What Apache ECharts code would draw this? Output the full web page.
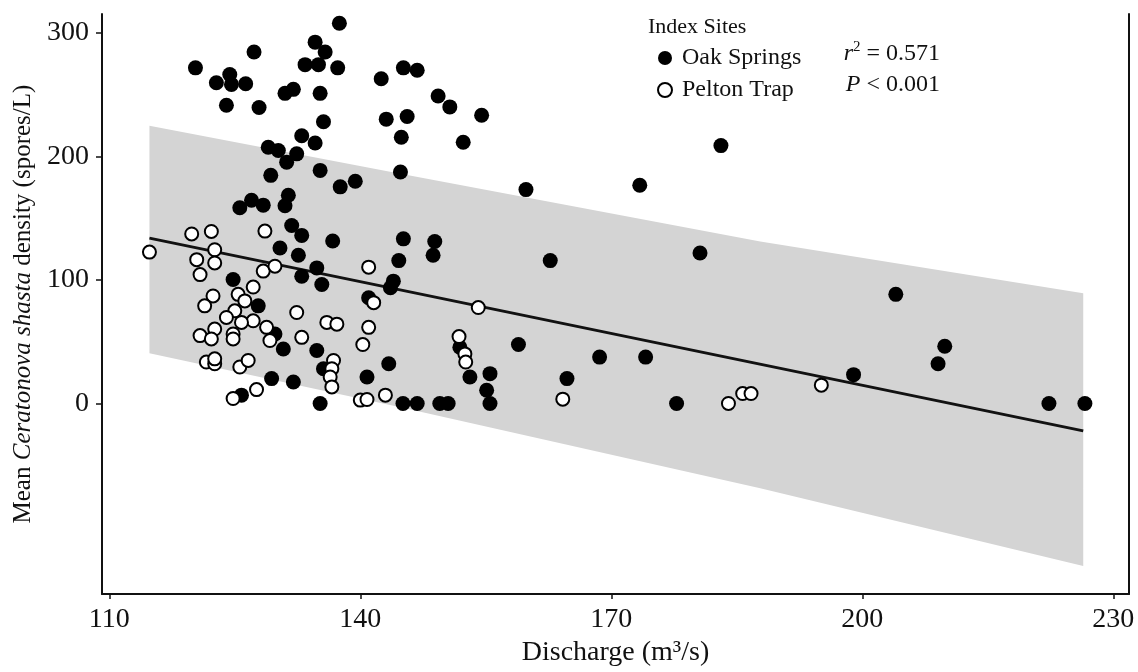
<!DOCTYPE html>
<html><head><meta charset="utf-8">
<script src="https://cdn.jsdelivr.net/npm/echarts@6/dist/echarts.min.js"></script>
<style>html,body{margin:0;padding:0;background:#fff}#c{width:1138px;height:672px}</style>
</head><body><div id="c"></div>
<script>
// Oak Springs: [discharge (m³/s), density (spores/L)]
const oakSprings = [
  [137.5,307.7],[120.3,271.6],[127.3,284.4],[134.6,292.4],[135.8,284.4],[133.4,274.2],[135.0,274.2],[137.3,271.6],
  [122.8,259.5],[124.4,266.2],[124.6,258.2],[126.3,258.7],[124.0,241.3],[127.9,239.5],[131.0,251.0],[132.0,254.2],
  [135.2,251.0],[135.6,228.0],[142.5,262.8],[143.1,230.1],[133.0,216.7],[134.6,210.8],[129.0,207.4],[130.2,204.7],
  [131.2,195.3],[132.4,202.0],[135.2,188.6],[129.3,184.6],[137.6,175.3],[139.4,179.8],[125.6,158.4],[127.0,164.5],
  [128.4,160.5],[131.4,168.5],[131.0,160.0],[131.8,144.0],[133.0,136.0],[136.7,131.5],[130.4,125.8],[132.6,119.9],
  [134.8,109.7],[133.0,103.0],[135.4,96.3],[124.8,100.3],[127.8,79.0],[129.8,56.2],[130.8,44.1],[134.8,42.9],
  [135.6,28.1],[129.4,20.1],[132.0,17.4],[125.8,6.7],[135.2,0],[141.0,85.6],[143.4,32.1],[140.8,21.4],
  [145.15,133.2],[144.6,115.6],[148.9,131.1],[148.7,119.9],[162.7,115.6],[180.6,121.8],[143.95,99.0],[143.6,93.7],
  [158.9,47.7],[151.9,45.5],[153.1,21.4],[155.5,24.1],[155.1,10.7],[155.5,0],[164.7,20.1],[168.6,37.5],
  [174.1,37.5],[177.8,0],[145.1,0],[146.8,0],[149.5,0],[150.5,0],[145.15,271.6],[146.8,269.7],
  [149.3,248.8],[150.7,240.0],[154.5,233.3],[145.6,232.3],[144.9,215.4],[152.3,211.4],[144.8,187.3],[159.8,173.1],
  [173.4,176.6],[183.1,208.7],[204.0,88.3],[209.85,46.3],[209.05,32.1],[198.95,23.3],[222.3,0],[226.6,0]
];
// Pelton Trap
const peltonTrap = [
  [114.8,122.5],[119.85,137.2],[122.2,139.2],[128.6,139.5],[122.6,124.4],[122.6,113.7],[120.45,116.4],[120.85,104.3],
  [128.4,107.1],[129.8,111.1],[127.2,94.2],[125.4,88.3],[122.4,87.0],[121.4,79.0],[126.2,83.0],[125.0,75.0],
  [124.0,69.6],[127.2,66.9],[125.8,65.6],[128.8,61.6],[132.4,73.6],[136.0,65.6],[137.2,64.2],[120.85,54.9],
  [122.6,60.2],[122.2,52.2],[124.8,56.2],[124.8,52.2],[129.2,50.9],[133.0,53.5],[121.6,33.5],[122.6,32.1],
  [122.6,36.1],[125.6,29.5],[126.6,34.8],[136.8,34.8],[136.6,28.1],[136.4,21.4],[136.6,13.4],[127.6,11.2],
  [124.8,4.0],[141.0,110.3],[141.0,61.6],[140.3,47.7],[141.6,81.6],[143.0,6.7],[140.0,2.7],[140.8,3.2],
  [154.1,77.6],[151.8,54.1],[152.5,40.1],[152.6,33.5],[164.2,3.5],[184.0,0],[185.7,8.0],[186.7,8.0],[195.1,14.8]
];
// regression fit and prediction band
const fitX = [114.8, 226.4];
const fitY = [133.8, -22.2];
const bandX = [114.8, 144.8, 187.8, 226.4];
const bandUpper = [224.7, 185.9, 131.1, 89.1];
const bandLower = [40.7, -3.0, -68.7, -131.6];
const xTicks = [110, 140, 170, 200, 230];
const yTicks = [0, 100, 200, 300];

const FONT = '"Liberation Serif", "Times New Roman", serif';
const chart = echarts.init(document.getElementById('c'));
chart.setOption({
  backgroundColor: '#fff',
  animation: false,
  title: {
    text: 'Index Sites', left: 643, top: 11,
    textStyle: { fontFamily: FONT, fontSize: 22, fontWeight: 'normal', color: '#111' }
  },
  legend: {
    orient: 'vertical', left: 652, top: 41, itemWidth: 14, itemHeight: 14, itemGap: 8,
    selectedMode: false, icon: 'circle',
    data: ['Oak Springs', 'Pelton Trap'],
    textStyle: { fontFamily: FONT, fontSize: 24, color: '#111', lineHeight: 24, padding: [0, 0, 0, 5] }
  },
  graphic: [
    { type: 'text', x: 940, y: 53, style: {
        text: '{i|r}{s|2}{n| = 0.571}', align: 'right', verticalAlign: 'middle',
        rich: {
          i: { fontFamily: FONT, fontSize: 24, fontStyle: 'italic', fill: '#111', lineHeight: 26, verticalAlign: 'bottom' },
          s: { fontFamily: FONT, fontSize: 15, fill: '#111', lineHeight: 26, verticalAlign: 'top' },
          n: { fontFamily: FONT, fontSize: 24, fill: '#111', lineHeight: 26, verticalAlign: 'bottom' }
        } } },
    { type: 'text', x: 940, y: 85, style: {
        text: '{i|P}{n| < 0.001}', align: 'right', verticalAlign: 'middle',
        rich: {
          i: { fontFamily: FONT, fontSize: 24, fontStyle: 'italic', fill: '#111' },
          n: { fontFamily: FONT, fontSize: 24, fill: '#111' }
        } } }
  ],
  grid: { left: 102, right: 9, top: 14, bottom: 73, containLabel: false },
  xAxis: {
    type: 'value', min: 109.13, max: 231.87,
    axisLine: { show: true, onZero: false, lineStyle: { color: '#111', width: 2 } },
    splitLine: { show: false },
    axisTick: { show: true, length: 5, lineStyle: { color: '#111', width: 1.5 }, customValues: xTicks },
    axisLabel: { customValues: xTicks, margin: 12, fontFamily: FONT, fontSize: 28, color: '#111' },
    name: 'Discharge (m³/s)', nameLocation: 'middle', nameGap: 42,
    nameTextStyle: { fontFamily: FONT, fontSize: 28, color: '#111' }
  },
  yAxis: [
    {
      type: 'value', min: -154.3, max: 315.2,
      axisLine: { show: true, onZero: false, lineStyle: { color: '#111', width: 2 } },
      splitLine: { show: false },
      axisTick: { show: true, length: 6, lineStyle: { color: '#111', width: 1.5 }, customValues: yTicks },
      axisLabel: { customValues: yTicks, margin: 13, fontFamily: FONT, fontSize: 28, color: '#111' },
      name: '{n|Mean }{i|Ceratonova shasta}{n| density (spores/L)}',
      nameLocation: 'middle', nameRotate: 90, nameGap: 64,
      nameTextStyle: {
        rich: {
          n: { fontFamily: FONT, fontSize: 25, color: '#111' },
          i: { fontFamily: FONT, fontSize: 25, fontStyle: 'italic', color: '#111' }
        }
      }
    },
    {
      type: 'value', min: -154.3, max: 315.2, position: 'right',
      axisLine: { show: true, onZero: false, lineStyle: { color: '#111', width: 2 } },
      splitLine: { show: false },
      axisTick: { show: false }, axisLabel: { show: false }
    }
  ],
  series: [
    {
      type: 'custom', name: 'band', silent: true, z: 1,
      data: bandX.map((x, i) => [x, bandUpper[i], bandLower[i]]),
      encode: { x: 0, y: [1, 2] },
      renderItem: function (params, api) {
        if (params.dataIndex !== 0) return;
        const pts = [];
        for (let i = 0; i < bandX.length; i++) pts.push(api.coord([bandX[i], bandUpper[i]]));
        for (let i = bandX.length - 1; i >= 0; i--) pts.push(api.coord([bandX[i], bandLower[i]]));
        return { type: 'polygon', shape: { points: pts }, style: { fill: '#d4d4d4' } };
      }
    },
    {
      type: 'line', name: 'fit', z: 2, silent: true, showSymbol: false,
      data: fitX.map((x, i) => [x, fitY[i]]),
      lineStyle: { color: '#111', width: 3 }
    },
    {
      type: 'scatter', name: 'Oak Springs', z: 3, symbol: 'circle', symbolSize: 15,
      data: oakSprings, itemStyle: { color: '#000', opacity: 1 }
    },
    {
      type: 'scatter', name: 'Pelton Trap', z: 4, symbol: 'circle', symbolSize: 13,
      data: peltonTrap, itemStyle: { color: '#fff', borderColor: '#000', borderWidth: 2, opacity: 1 }
    }
  ]
});
</script></body></html>
